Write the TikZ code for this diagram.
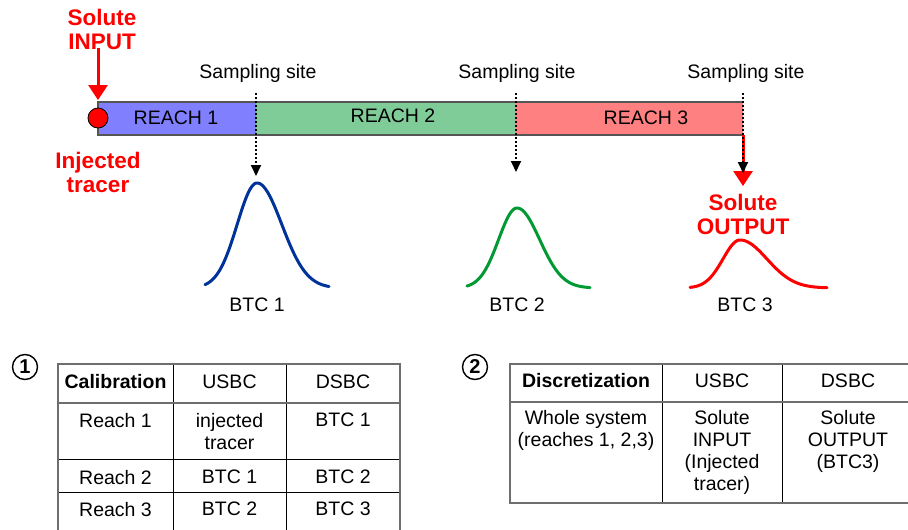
\documentclass[tikz,border=0pt]{standalone}
\usepackage{fontspec}
\setmainfont{Liberation Sans}
\usetikzlibrary{arrows.meta}
\definecolor{rone}{HTML}{8080FF}
\definecolor{rtwo}{HTML}{80CC99}
\definecolor{rthree}{HTML}{FF8080}
\definecolor{cblue}{HTML}{003399}
\definecolor{cgreen}{HTML}{009933}
\definecolor{barline}{HTML}{555555}
\definecolor{tabgray}{HTML}{6E6E6E}
\tikzset{
  lbl/.style={font=\fontsize{19.5}{22}\selectfont, inner sep=0pt, align=center},
  redlbl/.style={font=\fontsize{22.5}{24}\selectfont\bfseries, text=red, inner sep=0pt, align=center},
  cell/.style={font=\fontsize{19.5}{22}\selectfont, inner sep=0pt, align=center, anchor=north},
  hcell/.style={font=\fontsize{19.5}{22}\selectfont, inner sep=0pt, anchor=center},
  sample/.style={draw=black, line width=1.8pt, dash pattern=on 2pt off 2pt, -{Triangle[width=10pt,length=11pt]}},
  redarrow/.style={draw=red, line width=3pt, -{Triangle[width=19pt,length=15pt]}},
  curve/.style={line width=3pt, line cap=round, line join=round},
  thick tab/.style={draw=tabgray, line width=2pt},
  thin tab/.style={draw=black, line width=1pt},
  numcirc/.style={circle, draw=black, line width=1.4pt, minimum size=25pt, inner sep=0pt, font=\fontsize{20}{20}\selectfont\bfseries}
}
\begin{document}
\begin{tikzpicture}[x=1pt,y=-1pt]
\useasboundingbox (0,0) rectangle (908,530);
% river reaches
\fill[rone] (98,102) rectangle (256,135);
\fill[rtwo] (256,102) rectangle (516,135);
\fill[rthree] (516,102) rectangle (743,135);
\draw[barline, line width=1.2pt] (743,102) -- (98,102) -- (98,135) -- (743,135);
\node[lbl] (r1) at (176,118) {REACH 1};
\node[lbl] (r2) at (393,116) {REACH 2};
\node[lbl] (r3) at (646,118) {REACH 3};
% input
\node[circle, fill=red, draw=black, line width=0.8pt, minimum size=20pt, inner sep=0pt] (inj) at (98,118) {};
\node[redlbl] (sin) at (102,29) {Solute\\INPUT};
\node[redlbl] (itr) at (98,172) {Injected\\tracer};
\coordinate (intip) at (98,100);
\draw[redarrow] (98,48) -- (intip);
% sampling sites
\node[lbl] (s1) at (258,73) {Sampling site};
\node[lbl] (s2) at (517,73) {Sampling site};
\node[lbl] (s3) at (746,73) {Sampling site};
\coordinate (a1) at (256,176);
\coordinate (a2) at (516,172);
\coordinate (a3) at (743,173);
\coordinate (o3) at (743,186);
\draw[redarrow] (743,135) -- (o3);
\draw[sample] (256,93) -- (a1);
\draw[sample] (516,93) -- (a2);
\draw[sample] (743,93) -- (a3);
\node[redlbl] (sout) at (743,214) {Solute\\OUTPUT};
% BTC curves
\draw[curve, cblue]
  plot[domain=205:257, samples=50, smooth] (\x, {288-105*exp(-((\x-257)/28)^2)})
  -- plot[domain=257:329, samples=60, smooth] (\x, {288-105*exp(-((\x-257)/35)^2)});
\draw[curve, cgreen]
  plot[domain=467:517, samples=50, smooth] (\x, {288-80*exp(-((\x-517)/26)^2)})
  -- plot[domain=517:590, samples=60, smooth] (\x, {288-80*exp(-((\x-517)/32)^2)});
\draw[curve, red]
  plot[domain=690:740, samples=50, smooth] (\x, {288-48*exp(-((\x-740)/24)^2)})
  -- plot[domain=740:827, samples=60, smooth] (\x, {288-48*exp(-((\x-740)/38)^2)});
\node[lbl] (b1) at (257,305) {BTC 1};
\node[lbl] (b2) at (517,305) {BTC 2};
\node[lbl] (b3) at (745,305) {BTC 3};
% numbered circles
\node[numcirc] (n1) at (25,367) {1};
\node[numcirc] (n2) at (475,367) {2};
% table 1
\draw[thin tab] (173,364) -- (173,530);
\draw[thin tab] (286,364) -- (286,530);
\draw[thin tab] (58,459) -- (400,459);
\draw[thin tab] (58,492) -- (400,492);
\draw[thick tab] (58,530) -- (58,364) -- (400,364) -- (400,530);
\draw[thick tab] (58,403) -- (400,403);
\node[hcell, font=\fontsize{19.5}{22}\selectfont\bfseries] (t1h1) at (115.5,382) {Calibration};
\node[hcell] (t1h2) at (229.5,382) {USBC};
\node[hcell] (t1h3) at (343,382) {DSBC};
\node[cell] (t1a1) at (115.5,413) {Reach 1};
\node[cell] (t1a2) at (229.5,413) {injected\\tracer};
\node[cell] (t1a3) at (343,413) {BTC 1};
\node[cell] (t1b1) at (115.5,470) {Reach 2};
\node[cell] (t1b2) at (229.5,470) {BTC 1};
\node[cell] (t1b3) at (343,470) {BTC 2};
\node[cell] (t1c1) at (115.5,502) {Reach 3};
\node[cell] (t1c2) at (229.5,502) {BTC 2};
\node[cell] (t1c3) at (343,502) {BTC 3};
% table 2
\draw[thin tab] (662,364) -- (662,503);
\draw[thin tab] (782,364) -- (782,503);
\draw[thick tab] (910,503) -- (510,503) -- (510,364) -- (910,364);
\draw[thick tab] (510,402) -- (910,402);
\node[hcell, font=\fontsize{19.5}{22}\selectfont\bfseries] (t2h1) at (586,381) {Discretization};
\node[hcell] (t2h2) at (722,381) {USBC};
\node[hcell] (t2h3) at (848,381) {DSBC};
\node[cell] (t2a1) at (586,410) {Whole system\\(reaches 1, 2,3)};
\node[cell] (t2a2) at (722,410) {Solute\\INPUT\\(Injected\\tracer)};
\node[cell] (t2a3) at (848,410) {Solute\\OUTPUT\\(BTC3)};
\end{tikzpicture}
\end{document}
